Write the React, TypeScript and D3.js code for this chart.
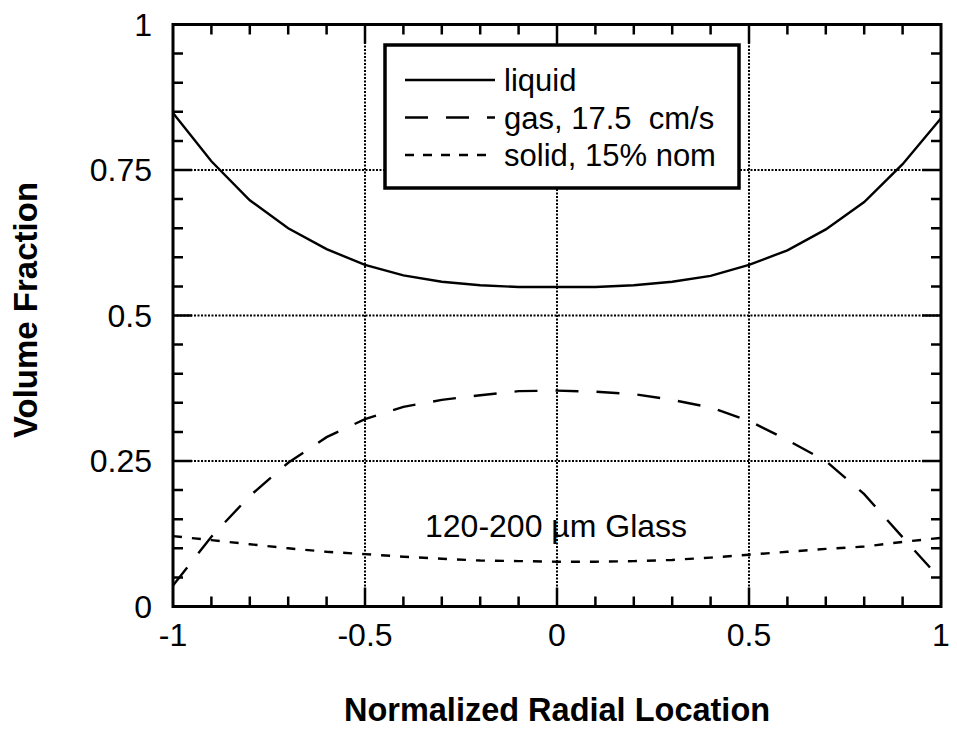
import { useEffect, useRef } from 'react';
import * as d3 from 'd3';

const radial = [-1, -0.9, -0.8, -0.7, -0.6, -0.5, -0.4, -0.3, -0.2, -0.1, 0, 0.1, 0.2, 0.3, 0.4, 0.5, 0.6, 0.7, 0.8, 0.9, 1];
const liquid = [0.848, 0.765, 0.698, 0.65, 0.614, 0.587, 0.569, 0.558, 0.552, 0.549, 0.549, 0.549, 0.552, 0.558, 0.568, 0.587, 0.612, 0.648, 0.695, 0.76, 0.839];
const gas = [0.036, 0.12, 0.19, 0.247, 0.291, 0.322, 0.343, 0.355, 0.363, 0.37, 0.371, 0.369, 0.365, 0.355, 0.342, 0.319, 0.286, 0.25, 0.193, 0.119, 0.046];
const solid = [0.121, 0.114, 0.107, 0.1, 0.094, 0.09, 0.0856, 0.082, 0.079, 0.078, 0.077, 0.077, 0.078, 0.08, 0.084, 0.089, 0.094, 0.099, 0.103, 0.111, 0.118];

const xTicks = [-1, -0.5, 0, 0.5, 1];
const xTickLabels = ['-1', '-0.5', '0', '0.5', '1'];
const yTicks = [0, 0.25, 0.5, 0.75, 1];
const yTickLabels = ['0', '0.25', '0.5', '0.75', '1'];
const xMinorTicks = [-0.9, -0.8, -0.7, -0.6, -0.5, -0.4, -0.3, -0.2, -0.1, 0, 0.1, 0.2, 0.3, 0.4, 0.5, 0.6, 0.7, 0.8, 0.9];
const yMinorTicks = [0.05, 0.1, 0.15, 0.2, 0.25, 0.3, 0.35, 0.4, 0.45, 0.5, 0.55, 0.6, 0.65, 0.7, 0.75, 0.8, 0.85, 0.9, 0.95];

const legendItems = [
  { label: 'liquid', dash: 'none' },
  { label: 'gas, 17.5  cm/s', dash: '23,18' },
  { label: 'solid, 15% nom', dash: '9,9' },
];

const FONT = '"Liberation Sans", Arial, Helvetica, sans-serif';

export default function App() {
  const svgRef = useRef<SVGSVGElement>(null);

  useEffect(() => {
    if (!svgRef.current) return;
    const width = 957, height = 730;
    const svg = d3.select(svgRef.current);
    svg.selectAll('*').remove();
    svg.attr('width', width).attr('height', height);

    const L = 173, R = 941, T = 24.5, B = 606.5;
    const x = d3.scaleLinear().domain([-1, 1]).range([L, R]);
    const y = d3.scaleLinear().domain([0, 1]).range([B, T]);

    svg.append('rect').attr('width', width).attr('height', height).attr('fill', '#fff');

    // dotted grid
    [-0.5, 0, 0.5].forEach(v => {
      svg.append('line').attr('x1', x(v)).attr('x2', x(v)).attr('y1', T).attr('y2', B)
        .attr('stroke', '#000').attr('stroke-width', 2).attr('stroke-dasharray', '2,1.5');
    });
    [0.25, 0.5, 0.75].forEach(v => {
      svg.append('line').attr('x1', L).attr('x2', R).attr('y1', y(v)).attr('y2', y(v))
        .attr('stroke', '#000').attr('stroke-width', 2).attr('stroke-dasharray', '2,1.5');
    });

    // ticks, inward on all four sides
    const tickPath = d3.path();
    xMinorTicks.forEach(v => {
      const len = xTicks.includes(v) ? 19 : 10;
      tickPath.moveTo(x(v), B); tickPath.lineTo(x(v), B - len);
      tickPath.moveTo(x(v), T); tickPath.lineTo(x(v), T + len);
    });
    yMinorTicks.forEach(v => {
      const len = yTicks.includes(v) ? 19 : 10;
      tickPath.moveTo(L, y(v)); tickPath.lineTo(L + len, y(v));
      tickPath.moveTo(R, y(v)); tickPath.lineTo(R - len, y(v));
    });
    svg.append('path').attr('d', tickPath.toString()).attr('fill', 'none')
      .attr('stroke', '#000').attr('stroke-width', 2.5);

    // curves
    const lineGen = d3.line<number>().x((_, i) => x(radial[i])).y(d => y(d));
    const series = [
      { data: liquid, dash: 'none' },
      { data: gas, dash: '23,18' },
      { data: solid, dash: '9,10' },
    ];
    series.forEach(s => {
      svg.append('path').datum(s.data).attr('d', lineGen).attr('fill', 'none')
        .attr('stroke', '#000').attr('stroke-width', 2.4)
        .attr('stroke-dasharray', s.dash);
    });

    // frame
    svg.append('rect').attr('x', L).attr('y', T).attr('width', R - L).attr('height', B - T)
      .attr('fill', 'none').attr('stroke', '#000').attr('stroke-width', 3);

    // legend
    const lg = svg.append('g');
    lg.append('rect').attr('x', 385).attr('y', 45).attr('width', 354).attr('height', 143)
      .attr('fill', '#fff').attr('stroke', '#000').attr('stroke-width', 3.5);
    legendItems.forEach((d, i) => {
      const ly = 80 + i * 37.5;
      lg.append('line').attr('x1', 405).attr('x2', 495).attr('y1', ly).attr('y2', ly)
        .attr('stroke', '#000').attr('stroke-width', 2.4).attr('stroke-dasharray', d.dash);
      lg.append('text').attr('x', 504).attr('y', ly + 11).attr('font-family', FONT)
        .attr('font-size', 31).attr('fill', '#000').style('white-space', 'pre').text(d.label);
    });

    // annotation
    svg.append('text').attr('x', 425).attr('y', 537).attr('font-family', FONT)
      .attr('font-size', 32).attr('fill', '#000').text('120-200 µm Glass');

    // tick labels
    xTicks.forEach((v, i) => {
      svg.append('text').attr('x', x(v)).attr('y', 646).attr('text-anchor', 'middle')
        .attr('font-family', FONT).attr('font-size', 32).attr('fill', '#000').text(xTickLabels[i]);
    });
    yTicks.forEach((v, i) => {
      svg.append('text').attr('x', 152).attr('y', y(v) + 11).attr('text-anchor', 'end')
        .attr('font-family', FONT).attr('font-size', 32).attr('fill', '#000').text(yTickLabels[i]);
    });

    // axis titles
    svg.append('text').attr('x', (L + R) / 2).attr('y', 721).attr('text-anchor', 'middle')
      .attr('font-family', FONT).attr('font-weight', 'bold').attr('font-size', 32.5)
      .attr('fill', '#000').text('Normalized Radial Location');
    svg.append('text').attr('transform', `translate(37,310) rotate(-90)`)
      .attr('text-anchor', 'middle').attr('font-family', FONT).attr('font-weight', 'bold')
      .attr('font-size', 33).attr('fill', '#000').text('Volume Fraction');
  }, []);

  return <svg ref={svgRef} style={{ position: 'absolute', left: 0, top: 0, display: 'block' }} />;
}
